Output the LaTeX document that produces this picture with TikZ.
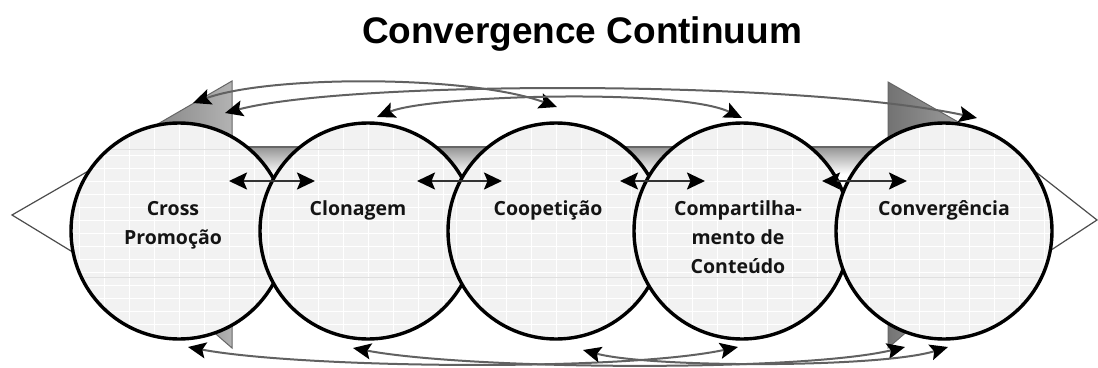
\documentclass[tikz,border=0pt]{standalone}
\usepackage{fontspec}
\setmainfont{Liberation Sans}
\newfontfamily\labelfont{Open Sans}
\usetikzlibrary{arrows.meta}

\begin{document}
\begin{tikzpicture}[x=1pt,y=-1pt,
  disc/.style={circle, draw=black, line width=3.4pt, minimum size=216pt, inner sep=0pt},
  lbl/.style={anchor=base, inner sep=0pt, text=black!92,
              font=\labelfont\bfseries\fontsize{19.5}{29}\selectfont},
  link/.style={draw=black!62, line width=2pt,
    {Stealth[length=18pt,width=16pt,inset=3.5pt,color=black]}-{Stealth[length=18pt,width=16pt,inset=3.5pt,color=black]}},
  hlink/.style={draw=black!80, line width=2.2pt,
    {Stealth[length=18pt,width=17pt,inset=3.5pt,color=black]}-{Stealth[length=18pt,width=17pt,inset=3.5pt,color=black]}},
  barb/.style={draw=black!60, line width=1pt, left color=black!55, right color=black!30},
  endface/.style={draw=black!70, line width=1.2pt, fill=white},
]
\useasboundingbox (0,0) rectangle (1098,367);

% end points of the long double arrow
\filldraw[endface] (12,215) -- (130,147) -- (130,287) -- cycle;
\filldraw[endface] (1097,220) -- (990,136) -- (990,290) -- cycle;

% side faces of the arrow heads
\shade[barb] (232,81) -- (232,147) -- (118,147) -- cycle;
\shade[barb] (232,348) -- (232,290) -- (165,290) -- cycle;
\shade[barb] (888,82) -- (888,147) -- (1002,147) -- cycle;
\shade[barb] (888,348) -- (888,290) -- (955,290) -- cycle;

% shaft of the arrow
\shade[top color=black!42, bottom color=white] (232,147) rectangle (888,174);
\draw[black!60, line width=1.2pt] (232,147) -- (888,147);

% the five stages, each on top of the previous one
\foreach \i/\cx in {1/179,2/368,3/556,4/742,5/944} {
  \fill[black!5] (\cx,231) circle[radius=108pt];
  \begin{scope}
    \clip (\cx,231) circle[radius=108pt];
    \foreach \gy in {155,168,181,194,207,220,233,246,259,272,285,298,311,324}
      \draw[white, line width=0.8pt] (\cx-110,\gy) -- (\cx+110,\gy);
    \foreach \gx in {-100,-75,-50,-25,0,25,50,75,100}
      \draw[white, line width=0.8pt] (\cx+\gx,120) -- (\cx+\gx,340);
    \draw[black!12, line width=0.6pt] (\cx-110,149) -- (\cx+110,149);
    \draw[black!12, line width=0.6pt] (\cx-110,277) -- (\cx+110,277);
  \end{scope}
  \node[disc] (c\i) at (\cx,231) {};
}

% stage names
\node[lbl] (l1) at (173,215) {\begin{tabular}[t]{@{}c@{}}Cross\\Promoção\end{tabular}};
\node[lbl] (l2) at (358,215) {Clonagem};
\node[lbl] (l3) at (548,215) {Coopetição};
\node[lbl] (l4) at (738,215) {\begin{tabular}[t]{@{}c@{}}Compartilha-\\mento de\\Conteúdo\end{tabular}};
\node[lbl] (l5) at (944,215) {Convergência};

% links between neighbouring stages
\coordinate (h12a) at (229,181); \coordinate (h12b) at (315,181);
\coordinate (h23a) at (417,181); \coordinate (h23b) at (502,181);
\coordinate (h34a) at (620,181); \coordinate (h34b) at (705,181);
\coordinate (h45a) at (822,181); \coordinate (h45b) at (907,181);
\draw[hlink] (h12a) -- (h12b);
\draw[hlink] (h23a) -- (h23b);
\draw[hlink] (h34a) -- (h34b);
\draw[hlink] (h45a) -- (h45b);

% links over the top
\coordinate (t13a) at (193,103); \coordinate (t13b) at (557,107);
\coordinate (t15a) at (225,113); \coordinate (t15b) at (977,118);
\coordinate (t24a) at (377,117); \coordinate (t24b) at (742,118);
\draw[link] (t13a) .. controls (270,75) and (470,75) .. (t13b);
\draw[link] (t15a) .. controls (350,80) and (800,80) .. (t15b);
\draw[link] (t24a) .. controls (430,95) and (680,88) .. (t24b);

% links underneath
\coordinate (b14a) at (188,347); \coordinate (b14b) at (738,347);
\coordinate (b25a) at (353,348); \coordinate (b25b) at (905,347);
\coordinate (b35a) at (583,350); \coordinate (b35b) at (948,347);
\draw[link] (b14a) .. controls (300,368) and (620,372) .. (b14b);
\draw[link] (b25a) .. controls (470,370) and (800,372) .. (b25b);
\draw[link] (b35a) .. controls (650,368) and (880,368) .. (b35b);

% heading
\node[anchor=base, inner sep=0pt, font=\bfseries\fontsize{37}{40}\selectfont] (title) at (582,43) {Convergence Continuum};
\end{tikzpicture}
\end{document}
